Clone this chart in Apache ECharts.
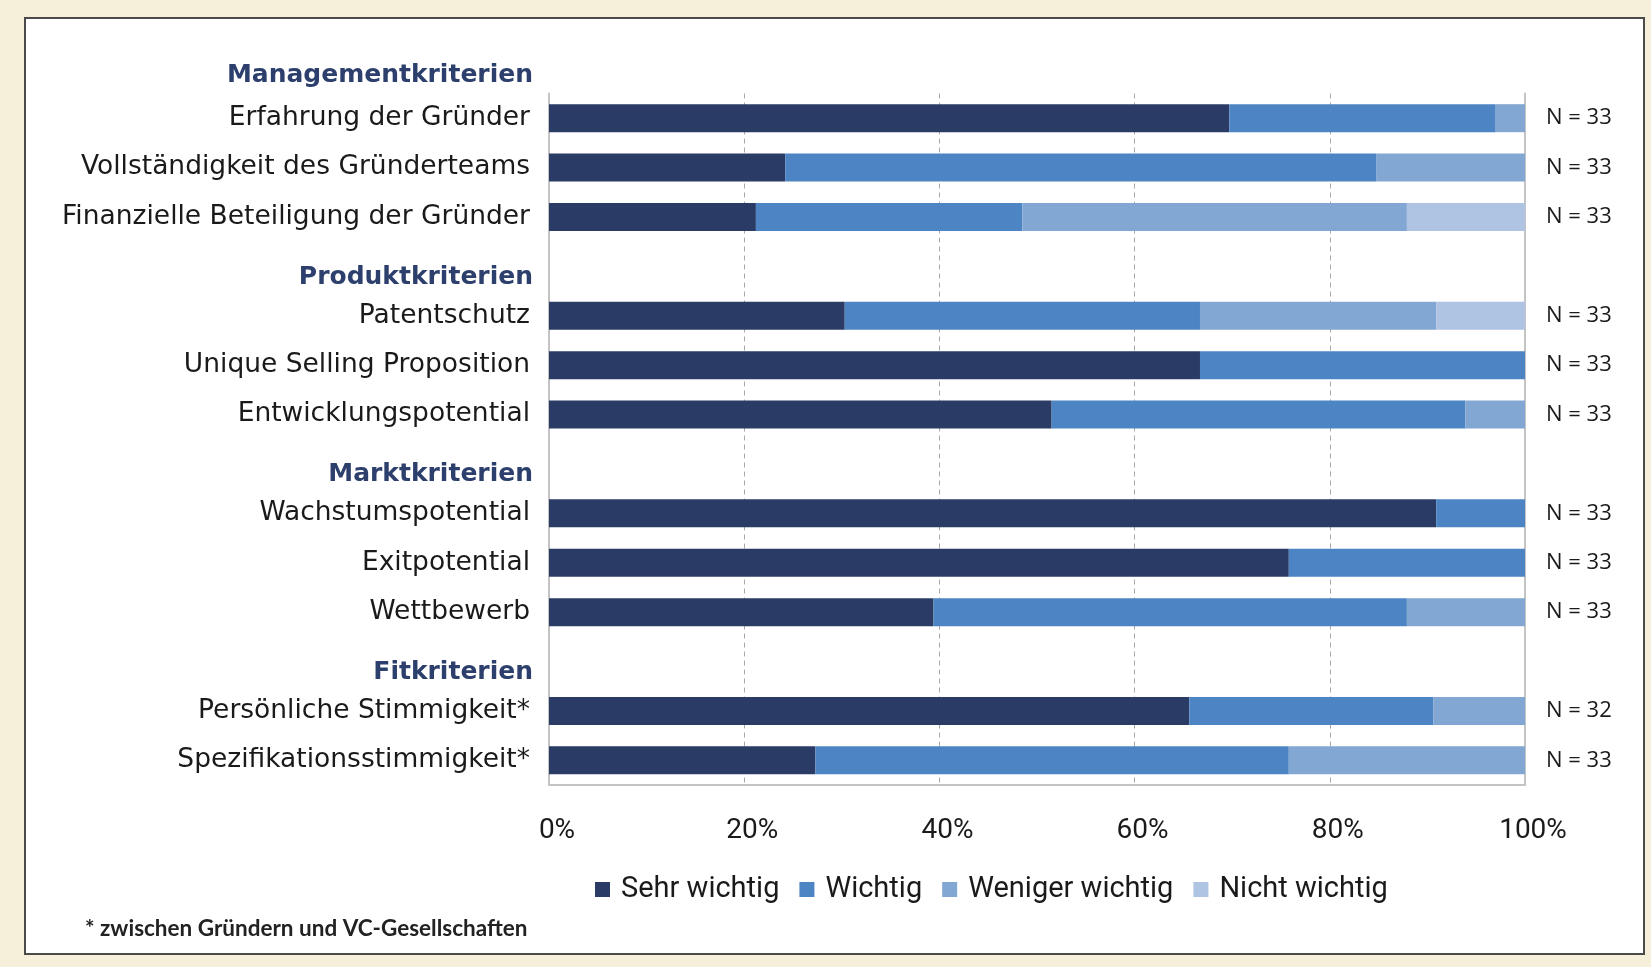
<!DOCTYPE html>
<html>
<head>
<meta charset="utf-8">
<script src="https://cdn.jsdelivr.net/npm/echarts@6/dist/echarts.min.js"></script>
<style>
  html, body { margin: 0; padding: 0; background: #f6f0da; }
  #panel {
    position: absolute; left: 24px; top: 17px; width: 1617px; height: 934px;
    background: #ffffff; border: 2px solid #4a4a4a;
  }
  #chart { position: absolute; left: 0; top: 0; width: 1651px; height: 967px; }
</style>
</head>
<body>
<div id="panel"></div>
<div id="chart"></div>
<script>
// Kategorien (inkl. Gruppenüberschriften ohne Balken)
const categories = [
  'Erfahrung der Gründer', 'Vollständigkeit des Gründerteams', 'Finanzielle Beteiligung der Gründer',
  'Produktkriterien', 'Patentschutz', 'Unique Selling Proposition', 'Entwicklungspotential',
  'Marktkriterien', 'Wachstumspotential', 'Exitpotential', 'Wettbewerb',
  'Fitkriterien', 'Persönliche Stimmigkeit*', 'Spezifikationsstimmigkeit*'
]
const firstHeader = 'Managementkriterien'
const groupHeaders = ['Produktkriterien', 'Marktkriterien', 'Fitkriterien']

// Anteile in %
const sehrWichtig = [69.7, 24.2, 21.2, null, 30.3, 66.7, 51.5, null, 90.9, 75.8, 39.4, null, 65.6, 27.3]
const wichtig     = [27.3, 60.6, 27.3, null, 36.4, 33.3, 42.4, null, 9.1, 24.2, 48.5, null, 25.0, 48.5]
const weniger     = [3.0, 15.2, 39.4, null, 24.2, 0, 6.1, null, 0, 0, 12.1, null, 9.4, 24.2]
const nicht       = [0, 0, 12.1, null, 9.1, 0, 0, null, 0, 0, 0, null, 0, 0]
const nLabels = ['N = 33', 'N = 33', 'N = 33', '', 'N = 33', 'N = 33', 'N = 33', '',
  'N = 33', 'N = 33', 'N = 33', '', 'N = 32', 'N = 33']

const xTicks = [0, 20, 40, 60, 80, 100]
const seriesNames = ['Sehr wichtig', 'Wichtig', 'Weniger wichtig', 'Nicht wichtig']
const colors = ['#2a3c66', '#4d85c4', '#82a7d3', '#aec4e2']

const chart = echarts.init(document.getElementById('chart'))

const mkSeries = (name, data, color) => ({
  name,
  type: 'bar',
  stack: 'all',
  barWidth: 28,
  data,
  itemStyle: { color }
})

chart.setOption({
  animation: false,
  backgroundColor: 'transparent',
  color: colors,
  title: [
    {
      text: firstHeader,
      right: 1113,
      top: 58,
      textStyle: { fontFamily: 'DejaVu Sans', fontSize: 25, fontWeight: 'bold', color: '#2d3f6c' }
    },
    {
      text: '* zwischen Gründern und VC-Gesellschaften',
      left: 80,
      top: 912,
      textStyle: { fontFamily: 'Lato', fontSize: 22.5, fontWeight: 'bold', color: '#222222' }
    }
  ],
  grid: {
    left: 549,
    right: 126,
    top: 93.5,
    bottom: 182,
    containLabel: false
  },
  legend: {
    data: seriesNames,
    left: 590,
    top: 870,
    icon: 'rect',
    itemWidth: 15,
    itemHeight: 15,
    itemGap: 20,
    textStyle: { fontFamily: 'Roboto', fontSize: 29, color: '#1a1a1a', padding: [0, 0, 0, 6] }
  },
  xAxis: {
    type: 'value',
    min: 0,
    max: 100,
    interval: 20,
    axisLine: { show: true, lineStyle: { color: '#c4c4c4', width: 2 } },
    axisTick: { show: false },
    splitLine: {
      show: true,
      showMinLine: false,
      showMaxLine: false,
      lineStyle: { type: [5, 4], color: '#a8a8a8', width: 1 }
    },
    axisLabel: {
      formatter: v => xTicks.includes(v) ? v + '%' : '',
      fontFamily: 'Roboto',
      fontSize: 28,
      color: '#1a1a1a',
      margin: 32,
      padding: [0, 0, 0, 16]
    }
  },
  yAxis: [
    {
      type: 'category',
      data: categories,
      inverse: true,
      axisLine: { show: true, lineStyle: { color: '#c4c4c4', width: 2 } },
      axisTick: { show: false },
      axisLabel: {
        margin: 16,
        formatter: v => groupHeaders.includes(v) ? '{h|' + v + '}' : '{r|' + v + '}',
        rich: {
          r: { fontFamily: 'DejaVu Sans', fontSize: 26.5, color: '#1a1a1a', padding: [0, 3, 0, 0] },
          h: { fontFamily: 'DejaVu Sans', fontSize: 25, fontWeight: 'bold', color: '#2d3f6c', padding: [22, 0, 0, 0] }
        }
      }
    },
    {
      type: 'category',
      data: categories,
      inverse: true,
      position: 'right',
      axisLine: { show: true, lineStyle: { color: '#c4c4c4', width: 2 } },
      axisTick: { show: false },
      axisLabel: {
        margin: 21,
        formatter: (v, i) => nLabels[i],
        fontFamily: 'Open Sans',
        fontSize: 22,
        color: '#1a1a1a',
        padding: [10, 0, 0, 0]
      }
    }
  ],
  series: [
    mkSeries(seriesNames[0], sehrWichtig, colors[0]),
    mkSeries(seriesNames[1], wichtig, colors[1]),
    mkSeries(seriesNames[2], weniger, colors[2]),
    mkSeries(seriesNames[3], nicht, colors[3])
  ]
})
</script>
</body>
</html>
